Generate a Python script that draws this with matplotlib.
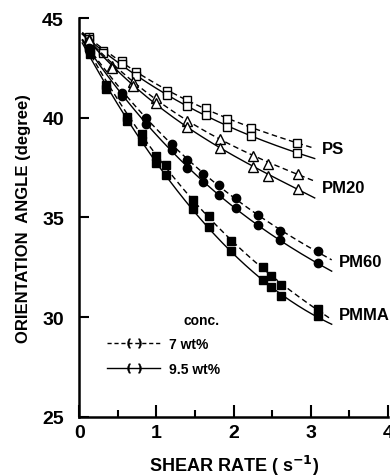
import numpy as np
import matplotlib.pyplot as plt
from matplotlib.lines import Line2D

plt.rcParams['font.family'] = ['Liberation Sans', 'DejaVu Sans']
plt.rcParams['font.weight'] = 'bold'

# shear rate (1/s) and orientation angle (deg), upper = 7 wt%, lower = 9.5 wt%
ps_x = [0.13, 0.31, 0.55, 0.74, 1.14, 1.39, 1.64, 1.92, 2.22, 2.82]
ps_7 = [44.05, 43.35, 42.85, 42.3, 41.35, 40.9, 40.5, 39.95, 39.5, 38.75]
ps_95 = [43.95, 43.25, 42.7, 42.1, 41.15, 40.6, 40.15, 39.55, 39.1, 38.25]

pm20_x = [0.13, 0.42, 0.70, 1.0, 1.40, 1.83, 2.25, 2.45, 2.83]
pm20_7 = [43.95, 42.6, 41.8, 41.0, 39.85, 38.95, 38.1, 37.7, 37.2]
pm20_95 = [43.9, 42.5, 41.6, 40.75, 39.55, 38.5, 37.55, 37.1, 36.45]

pm60_x = [0.13, 0.56, 0.87, 1.20, 1.40, 1.60, 1.81, 2.03, 2.31, 2.60, 3.09]
pm60_7 = [43.5, 41.25, 40.0, 38.7, 37.9, 37.2, 36.65, 36.0, 35.1, 34.3, 33.3]
pm60_95 = [43.4, 41.1, 39.7, 38.4, 37.5, 36.8, 36.15, 35.45, 34.6, 33.85, 32.7]

pmma_x = [0.14, 0.35, 0.62, 0.81, 1.0, 1.12, 1.47, 1.68, 1.97, 2.38, 2.49, 2.61, 3.09]
pmma_7 = [43.4, 41.65, 40.05, 39.2, 38.1, 37.65, 35.9, 35.05, 33.8, 32.5, 32.05, 31.6, 30.4]
pmma_95 = [43.2, 41.45, 39.85, 38.85, 37.75, 37.15, 35.4, 34.5, 33.3, 31.85, 31.5, 31.05, 30.05]

series = [
    ('PS', ps_x, ps_7, ps_95, 's', 'white', 3.05),
    ('PM20', pm20_x, pm20_7, pm20_95, '^', 'white', 3.05),
    ('PM60', pm60_x, pm60_7, pm60_95, 'o', 'black', 3.27),
    ('PMMA', pmma_x, pmma_7, pmma_95, 's', 'black', 3.27),
]

fig = plt.figure(figsize=(3.9, 4.77), dpi=100)
ax = fig.add_axes([0.203, 0.124, 0.792, 0.836])

for name, x, y7, y95, mk, fc, xend in series:
    xs = np.linspace(0.04, xend, 200)
    for y, ls in ((y7, (0, (4, 2.5))), (y95, '-')):
        c = np.polyfit(x, y, 3)
        ax.plot(xs, np.polyval(c, xs), color='black', ls=ls, lw=1.0)
        ax.plot(x, y, ls='none', marker=mk, ms=6 if mk != '^' else 6.5,
                mfc=fc, mec='black', mew=1.0)
    c = np.polyfit(x, y95, 3)
    ax.annotate(name, (xend, np.polyval(c, xend)), xytext=(5, 4),
                textcoords='offset points', fontsize=12, fontweight='bold')

ax.set_xlim(0, 4)
ax.set_ylim(25, 45)
ax.set_xticks([0, 1, 2, 3, 4])
ax.set_xticks([0.5, 1.5, 2.5, 3.5], minor=True)
ax.set_yticks([25, 30, 35, 40, 45])
ax.tick_params(axis='x', which='major', direction='in', length=9, width=1.5,
               labelsize=14, pad=5)
ax.tick_params(axis='x', which='minor', direction='in', length=5, width=1.5)
ax.tick_params(axis='y', direction='in', length=7, width=1.5, labelsize=14, pad=11)
for s in ('top', 'right'):
    ax.spines[s].set_visible(False)
for s in ('left', 'bottom'):
    ax.spines[s].set_linewidth(1.8)

ax.set_xlabel('SHEAR RATE ( s$^{\\mathbf{-1}}$)', fontsize=13, fontweight='bold', labelpad=9)
ax.set_ylabel('ORIENTATION  ANGLE (degree)', fontsize=12, fontweight='bold', labelpad=8)

handles = [
    Line2D([], [], color='black', ls=(0, (3, 2)), lw=1.0, marker='$(\\;\\;)$', ms=10, mew=0.3),
    Line2D([], [], color='black', ls='-', lw=1.0, marker='$(\\;\\;)$', ms=10, mew=0.3),
]
leg = ax.legend(handles, ['7 wt%', '9.5 wt%'], title='conc.', loc='upper left',
                bbox_to_anchor=(0.06, 0.285), frameon=False, handlelength=3.8,
                fontsize=10, title_fontsize=10, labelspacing=0.75, handletextpad=0.6,
                alignment='right', borderpad=0.2)
leg.get_title().set_fontweight('bold')
for t in leg.get_texts():
    t.set_fontweight('bold')

fig.savefig('out.png', dpi=100)
